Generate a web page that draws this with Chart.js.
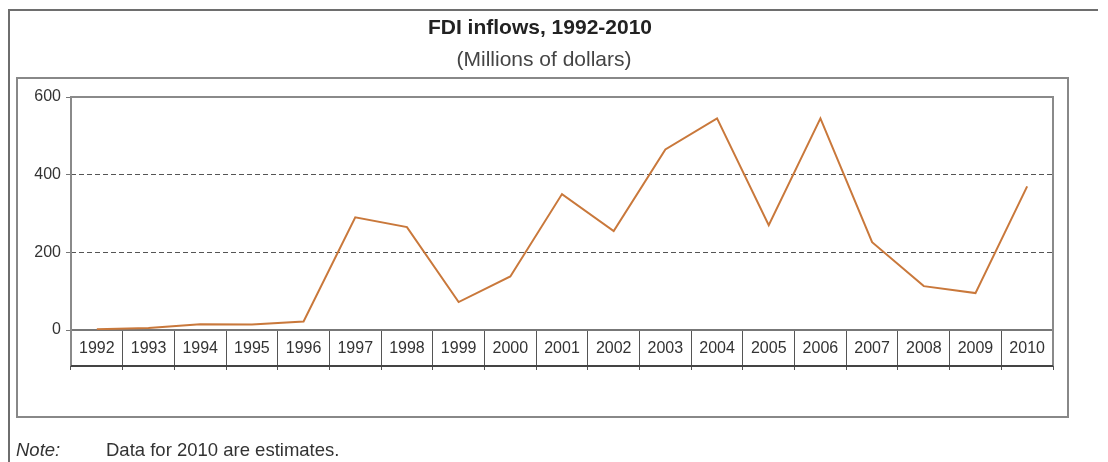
<!DOCTYPE html>
<html>
<head>
<meta charset="utf-8">
<script src="https://cdn.jsdelivr.net/npm/chart.js@4/dist/chart.umd.min.js"></script>
<style>
  html, body { margin: 0; padding: 0; background: #fff; }
  #wrap { width: 1108px; height: 462px; }
</style>
</head>
<body>
<div id="wrap"><canvas id="fdiChart" width="1108" height="462"></canvas></div>
<script>
  const years = ['1992', '1993', '1994', '1995', '1996', '1997', '1998', '1999', '2000', '2001',
                 '2002', '2003', '2004', '2005', '2006', '2007', '2008', '2009', '2010'];
  const inflows = [2, 5, 15, 14, 22, 290, 265, 72, 138, 350,
                   255, 465, 545, 270, 545, 226, 113, 95, 370];
  const yTicks = [0, 200, 400, 600];

  const titleText = 'FDI inflows, 1992-2010';
  const subtitleText = '(Millions of dollars)';
  const noteLabel = 'Note:';
  const noteText = 'Data for 2010 are estimates.';

  const FONT = '"Liberation Sans", Arial, sans-serif';

  // frames, table rule under the year cells, titles and note
  const framePlugin = {
    id: 'frames',
    beforeDraw(chart) {
      const ctx = chart.ctx;
      ctx.save();
      ctx.strokeStyle = '#6e6e6e';
      ctx.lineWidth = 2;
      ctx.beginPath();
      ctx.moveTo(9, 462);
      ctx.lineTo(9, 10);
      ctx.lineTo(1098, 10);
      ctx.stroke();
      ctx.strokeStyle = '#888';
      ctx.strokeRect(17, 78, 1051, 339);

      ctx.fillStyle = '#222';
      ctx.textAlign = 'center';
      ctx.textBaseline = 'middle';
      ctx.font = 'bold 21px ' + FONT;
      ctx.fillText(titleText, 540, 28);
      ctx.fillStyle = '#444';
      ctx.font = '21px ' + FONT;
      ctx.fillText(subtitleText, 544, 60);

      ctx.textAlign = 'left';
      ctx.fillStyle = '#333';
      ctx.font = 'italic 18.5px ' + FONT;
      ctx.fillText(noteLabel, 16, 451);
      ctx.font = '18.5px ' + FONT;
      ctx.fillText(noteText, 106, 451);
      ctx.restore();
    },
    afterDraw(chart) {
      const ctx = chart.ctx;
      const a = chart.chartArea;
      ctx.save();
      ctx.strokeStyle = '#8a8a8a';
      ctx.lineWidth = 2;
      ctx.beginPath();
      ctx.moveTo(a.left, a.bottom + 36);
      ctx.lineTo(a.left, a.top);
      ctx.lineTo(a.right, a.top);
      ctx.lineTo(a.right, a.bottom + 36);
      ctx.stroke();
      ctx.strokeStyle = '#444';
      ctx.beginPath();
      ctx.moveTo(a.left, a.bottom + 36);
      ctx.lineTo(a.right, a.bottom + 36);
      ctx.stroke();
      ctx.restore();
    }
  };

  new Chart(document.getElementById('fdiChart'), {
    type: 'line',
    data: {
      labels: years,
      datasets: [{
        data: inflows,
        borderColor: '#c9783b',
        borderWidth: 2,
        pointRadius: 0,
        tension: 0,
        fill: false
      }]
    },
    options: {
      responsive: false,
      animation: false,
      events: [],
      layout: { padding: { left: 31, right: 55, top: 97, bottom: 0 } },
      plugins: {
        legend: { display: false },
        tooltip: { enabled: false }
      },
      scales: {
        x: {
          type: 'category',
          offset: true,
          afterFit: s => { s.height = 132; },
          grid: {
            offset: true,
            drawOnChartArea: false,
            tickLength: 40,
            tickColor: '#555',
            tickWidth: 1
          },
          border: { display: true, color: '#777', width: 2 },
          ticks: {
            color: '#333',
            padding: -31,
            maxRotation: 0,
            autoSkip: false,
            font: { family: FONT, size: 16 }
          }
        },
        y: {
          min: 0,
          max: 600,
          afterFit: s => { s.width = 40; },
          afterBuildTicks: s => { s.ticks = yTicks.map(v => ({ value: v })); },
          grid: {
            color: ctx => (ctx.tick && (ctx.tick.value === 200 || ctx.tick.value === 400)) ? '#555' : 'rgba(0,0,0,0)',
            lineWidth: 1,
            tickLength: 5,
            tickColor: '#777'
          },
          border: {
            display: false,
            dash: ctx => (ctx.tick && (ctx.tick.value === 200 || ctx.tick.value === 400)) ? [5, 3] : []
          },
          ticks: {
            color: '#333',
            padding: 5,
            font: { family: FONT, size: 16 }
          }
        }
      }
    },
    plugins: [framePlugin]
  });
</script>
</body>
</html>
